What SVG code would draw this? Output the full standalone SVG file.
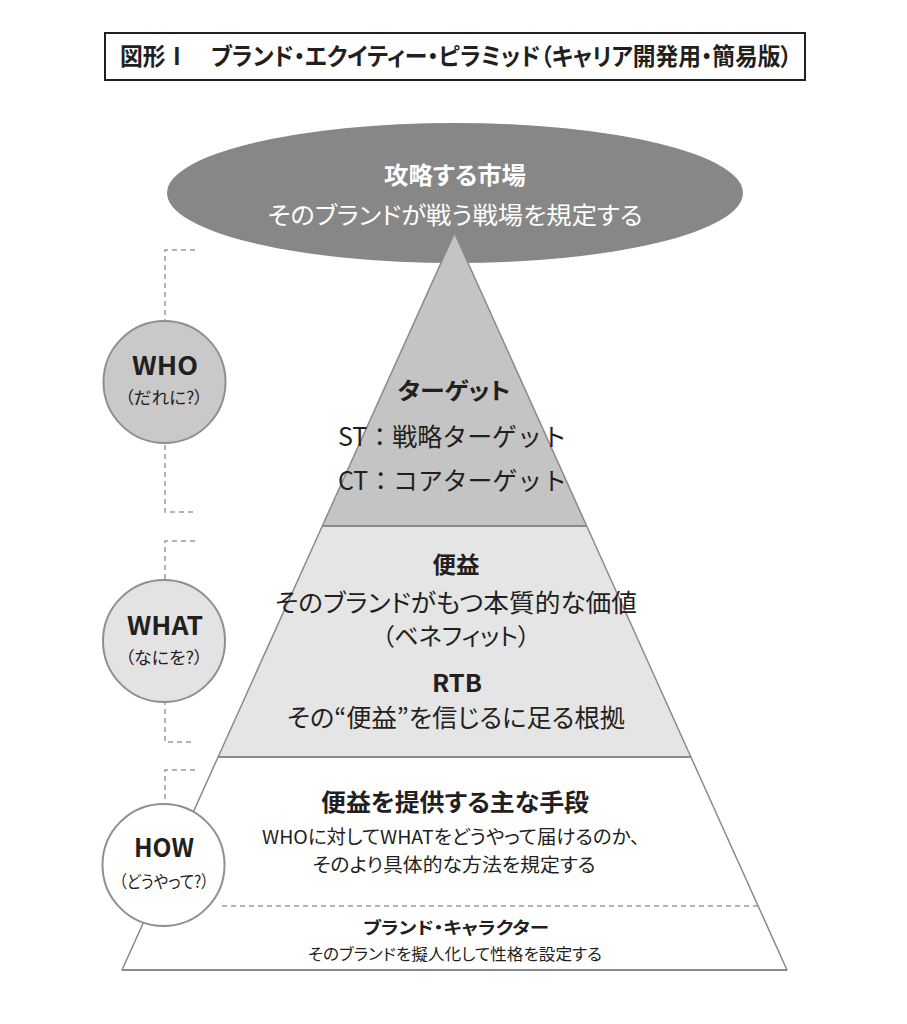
<svg xmlns="http://www.w3.org/2000/svg" width="907" height="1024" viewBox="0 0 907 1024">
<style>
text{font-family:"Noto Sans CJK JP","Noto Sans",sans-serif;fill:#231f20;text-anchor:middle;font-feature-settings:"palt"}
.b{font-weight:700}
.w{fill:#ffffff}
.np{font-feature-settings:normal;text-anchor:start}
.edge{stroke:#8a8a8a;stroke-width:1.5;stroke-linejoin:round}
.sep{stroke:#8a8a8a;stroke-width:2}
.dash{fill:none;stroke:#9a9a9a;stroke-width:1.5;stroke-dasharray:5 4}
.circ{stroke:#8f8f8f;stroke-width:2}
</style>
<rect width="907" height="1024" fill="#ffffff"/>
<g id="title">
<rect x="105" y="33" width="700" height="47" fill="none" stroke="#231f20" stroke-width="2"/>
<text class="b" x="456" y="65" font-size="24" textLength="672" lengthAdjust="spacingAndGlyphs">図形Ⅰ　ブランド・エクイティー・ピラミッド（キャリア開発用・簡易版）</text>
</g>
<g id="connectors">
<path class="dash" d="M195 250H165V512H195"/>
<path class="dash" d="M195 541H165V742H195"/>
<path class="dash" d="M195 770H165V953H195"/>
</g>
<g id="market">
<ellipse cx="455" cy="193" rx="288" ry="70" fill="#878787"/>
<text class="b w" x="455" y="184" font-size="24" textLength="142" lengthAdjust="spacingAndGlyphs">攻略する市場</text>
<text class="w" x="455" y="224" font-size="24" textLength="375" lengthAdjust="spacingAndGlyphs">そのブランドが戦う戦場を規定する</text>
</g>
<g id="target">
<polygon class="edge" points="454.5,233 586.7,526 322.3,526" fill="#c4c4c4"/>
<text class="b" x="454" y="399" font-size="23" textLength="113" lengthAdjust="spacingAndGlyphs">ターゲット</text>
<text class="np" x="338" y="446" font-size="25" textLength="229" lengthAdjust="spacingAndGlyphs">ST：戦略ターゲット</text>
<text class="np" x="338" y="490" font-size="25" textLength="229" lengthAdjust="spacingAndGlyphs">CT：コアターゲット</text>
</g>
<g id="benefit">
<polygon class="edge" points="322.3,526 586.7,526 690.9,757 218.1,757" fill="#e5e5e5"/>
<line class="sep" x1="322.3" y1="526" x2="586.7" y2="526"/>
<text class="b" x="456" y="573" font-size="23" textLength="47" lengthAdjust="spacingAndGlyphs">便益</text>
<text x="456" y="612" font-size="25" textLength="362" lengthAdjust="spacingAndGlyphs">そのブランドがもつ本質的な価値</text>
<text x="456" y="645" font-size="24" textLength="148" lengthAdjust="spacingAndGlyphs">（ベネフィット）</text>
<text class="b" x="457" y="692" font-size="24" textLength="50" lengthAdjust="spacingAndGlyphs">RTB</text>
<text x="456" y="727" font-size="25" textLength="338" lengthAdjust="spacingAndGlyphs">その“便益”を信じるに足る根拠</text>
</g>
<g id="means">
<polygon class="edge" points="218.1,757 690.9,757 787,970 122,970" fill="#ffffff"/>
<line class="sep" x1="218.1" y1="757" x2="690.9" y2="757"/>
<line class="sep" x1="122" y1="970" x2="787" y2="970"/>
<line class="dash" x1="222" y1="906" x2="758" y2="906"/>
<text class="b" x="455" y="811" font-size="24" textLength="268" lengthAdjust="spacingAndGlyphs">便益を提供する主な手段</text>
<text x="451" y="844" font-size="19" textLength="378" lengthAdjust="spacingAndGlyphs">WHOに対してWHATをどうやって届けるのか、</text>
<text x="454" y="872" font-size="19" textLength="283" lengthAdjust="spacingAndGlyphs">そのより具体的な方法を規定する</text>
<text class="b" x="456" y="934" font-size="17" textLength="186" lengthAdjust="spacingAndGlyphs">ブランド・キャラクター</text>
<text x="455" y="960" font-size="16" textLength="294" lengthAdjust="spacingAndGlyphs">そのブランドを擬人化して性格を設定する</text>
</g>
<g id="who">
<circle class="circ" cx="164.5" cy="382" r="61" fill="#c9c9c9"/>
<text class="b" x="165" y="375" font-size="26" textLength="66" lengthAdjust="spacingAndGlyphs">WHO</text>
<text x="164" y="404" font-size="17" textLength="78" lengthAdjust="spacingAndGlyphs">（だれに?）</text>
</g>
<g id="what">
<circle class="circ" cx="164" cy="641" r="61" fill="#e3e3e3"/>
<text class="b" x="165" y="635" font-size="26" textLength="76" lengthAdjust="spacingAndGlyphs">WHAT</text>
<text x="164" y="664" font-size="17" textLength="78" lengthAdjust="spacingAndGlyphs">（なにを?）</text>
</g>
<g id="how">
<circle class="circ" cx="163.5" cy="865" r="61" fill="#ffffff"/>
<text class="b" x="164" y="857" font-size="26" textLength="60" lengthAdjust="spacingAndGlyphs">HOW</text>
<text x="164" y="888" font-size="17" textLength="90" lengthAdjust="spacingAndGlyphs">（どうやって?）</text>
</g>
</svg>
